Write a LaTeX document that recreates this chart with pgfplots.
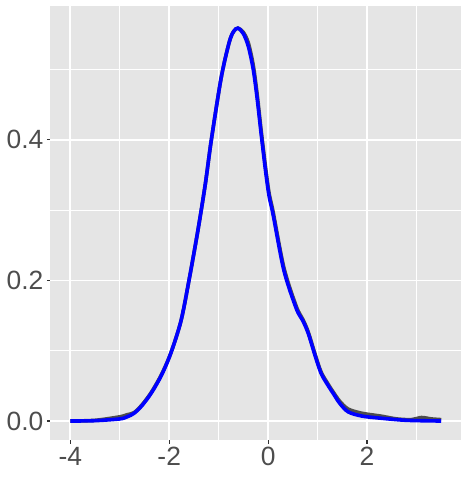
\documentclass[border=0pt]{standalone}
\usepackage{fontspec}
\setmainfont{Liberation Sans}
\usepackage{pgfplots}
\pgfplotsset{compat=1.18}
\usepackage{pgfplotstable}
\definecolor{panel}{HTML}{E5E5E5}
\definecolor{ticktext}{HTML}{4D4D4D}
\definecolor{tickc}{HTML}{333333}
\pgfplotstableread{
x y
-4.00 0.000
-3.50 0.0005
-3.00 0.003
-2.85 0.006
-2.71 0.011
-2.55 0.022
-2.36 0.040
-2.15 0.066
-1.96 0.098
-1.76 0.143
-1.60 0.200
-1.42 0.271
-1.27 0.337
-1.15 0.399
-0.95 0.488
-0.79 0.538
-0.70 0.554
-0.61 0.559
-0.50 0.551
-0.40 0.533
-0.30 0.500
-0.22 0.458
-0.14 0.408
-0.05 0.355
0.02 0.320
0.10 0.294
0.32 0.214
0.57 0.160
0.70 0.143
0.81 0.125
0.95 0.093
1.07 0.068
1.20 0.052
1.31 0.040
1.45 0.025
1.62 0.013
1.90 0.007
2.28 0.004
2.80 0.001
3.50 0.000
}\bluedata
\pgfplotstableread{
x y
-4.00 0.000
-3.50 0.001
-3.00 0.006
-2.85 0.009
-2.71 0.012
-2.55 0.023
-2.36 0.041
-2.15 0.067
-1.96 0.098
-1.76 0.143
-1.60 0.200
-1.42 0.271
-1.27 0.337
-1.15 0.399
-0.95 0.488
-0.79 0.538
-0.70 0.554
-0.61 0.559
-0.50 0.553
-0.40 0.538
-0.30 0.506
-0.22 0.464
-0.14 0.413
-0.05 0.360
0.02 0.324
0.10 0.298
0.32 0.218
0.57 0.163
0.70 0.145
0.81 0.127
0.95 0.095
1.07 0.070
1.20 0.054
1.31 0.042
1.45 0.028
1.62 0.017
1.90 0.011
2.28 0.007
2.60 0.003
2.90 0.002
3.10 0.005
3.30 0.003
3.50 0.002
}\greydata
\begin{document}
\begin{tikzpicture}
\useasboundingbox (-50.5bp,-39bp) rectangle (417.5bp,440bp);
\begin{axis}[
  at={(0,0)}, anchor=south west,
  scale only axis, width=410.5bp, height=434bp,
  xmin=-4.4, xmax=3.9, ymin=-0.027, ymax=0.5905,
  axis background/.style={fill=panel},
  axis line style={draw=none},
  xtick={-4,-2,0,2}, ytick={0,0.2,0.4},
  minor xtick={-3,-1,1,3}, minor ytick={0.1,0.3,0.5},
  xticklabels={-4,-2,0,2},
  yticklabel style={/pgf/number format/fixed, /pgf/number format/fixed zerofill, /pgf/number format/precision=1},
  /pgf/number format/assume math mode=true,
  grid=both,
  major grid style={draw=white, line width=1.6bp},
  minor grid style={draw=white, line width=0.8bp},
  tick pos=left,
  tick align=outside,
  major tick length=3.7bp,
  minor tick length=0pt,
  tick style={draw=tickc, line width=1.1bp},
  tick label style={font=\fontsize{26.5}{28}\selectfont, text=ticktext},
  clip=true,
]
\addplot[black!80, opacity=0.85, line width=3.6bp, smooth, tension=0.5] table[x=x,y=y] {\greydata};
\addplot[blue, line width=3.6bp, smooth, tension=0.5] table[x=x,y=y] {\bluedata};
\end{axis}
\end{tikzpicture}
\end{document}
